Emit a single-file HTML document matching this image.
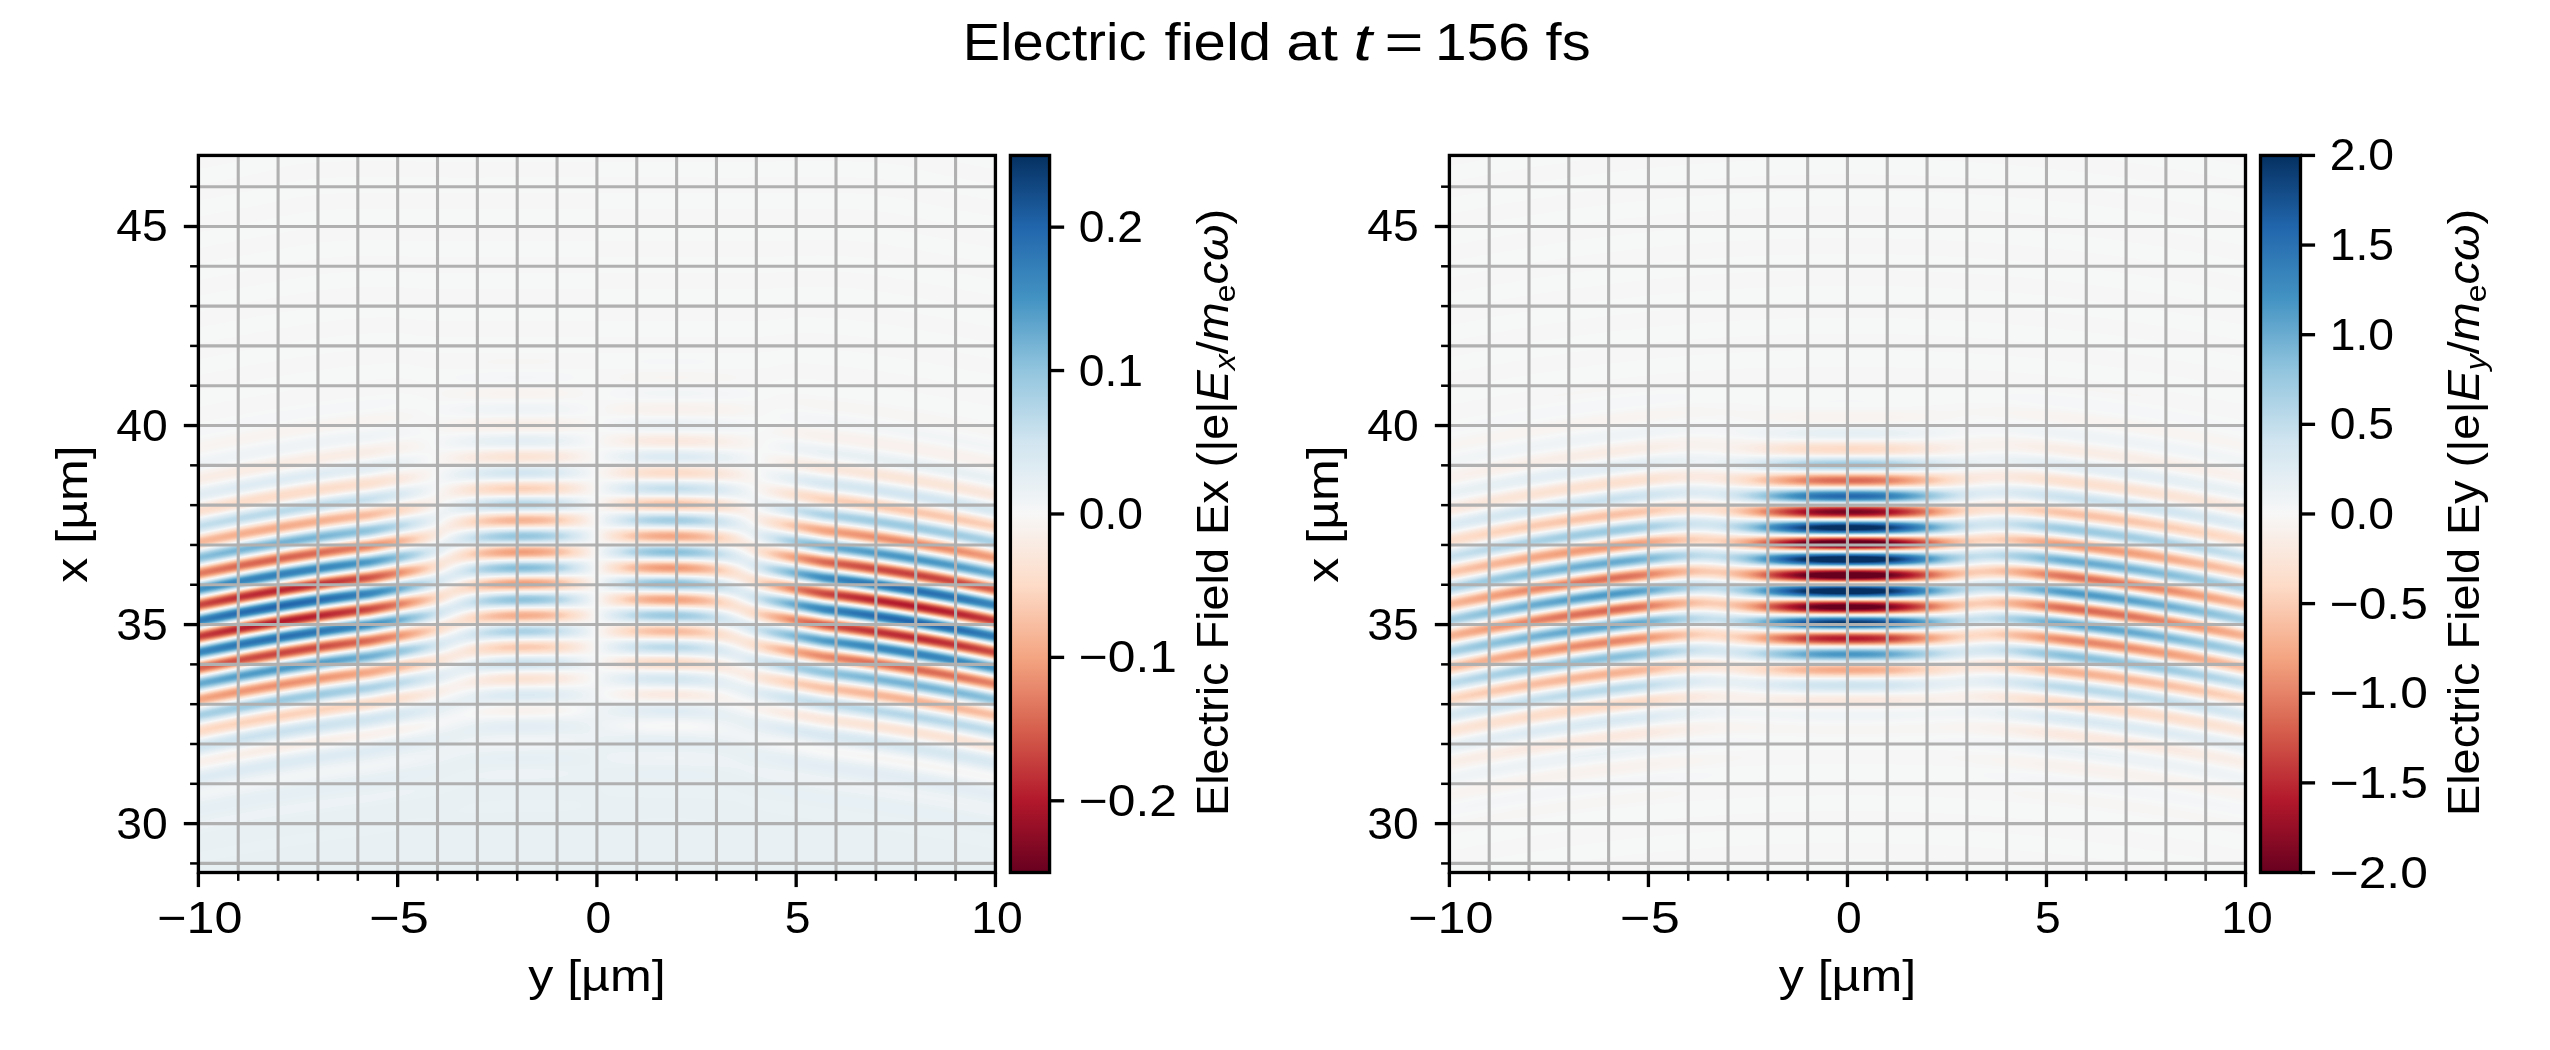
<!DOCTYPE html>
<html><head><meta charset="utf-8"><style>
html,body{margin:0;padding:0;background:#fff;}
body{width:2550px;height:1050px;position:relative;overflow:hidden;}
.hm{position:absolute;}
svg{position:absolute;left:0;top:0;}
text{font-family:"Liberation Sans",sans-serif;fill:#000;}
</style></head><body>
<svg width="2550" height="1050" viewBox="0 0 2550 1050"><defs><linearGradient id="fbC" gradientUnits="userSpaceOnUse" x1="0" y1="420.59" x2="0" y2="452.44" spreadMethod="repeat"><stop offset="0.0000" stop-color="#67001f"/><stop offset="0.0833" stop-color="#991027"/><stop offset="0.1667" stop-color="#e58267"/><stop offset="0.2500" stop-color="#f7f7f7"/><stop offset="0.3333" stop-color="#6bacd1"/><stop offset="0.4167" stop-color="#185493"/><stop offset="0.5000" stop-color="#053061"/><stop offset="0.5833" stop-color="#185493"/><stop offset="0.6667" stop-color="#6aacd0"/><stop offset="0.7500" stop-color="#f7f7f7"/><stop offset="0.8333" stop-color="#e58267"/><stop offset="0.9167" stop-color="#991027"/><stop offset="1.0000" stop-color="#67001f"/></linearGradient><radialGradient id="fbS" gradientUnits="userSpaceOnUse" cx="398.50" cy="2415.87" r="31.848" fx="398.50" fy="2415.87" spreadMethod="repeat"><stop offset="0.0000" stop-color="#de715a"/><stop offset="0.0833" stop-color="#e98b6e"/><stop offset="0.1667" stop-color="#fac7ad"/><stop offset="0.2500" stop-color="#f7f7f7"/><stop offset="0.3333" stop-color="#b9d9e9"/><stop offset="0.4167" stop-color="#74b2d4"/><stop offset="0.5000" stop-color="#57a0ca"/><stop offset="0.5833" stop-color="#74b2d4"/><stop offset="0.6667" stop-color="#b9d9e9"/><stop offset="0.7500" stop-color="#f7f7f7"/><stop offset="0.8333" stop-color="#fac7ad"/><stop offset="0.9167" stop-color="#e98b6e"/><stop offset="1.0000" stop-color="#de715a"/></radialGradient><radialGradient id="fbSx" gradientUnits="userSpaceOnUse" cx="398.50" cy="2415.87" r="31.848" fx="398.50" fy="2415.87" spreadMethod="repeat"><stop offset="0.0000" stop-color="#f7f7f7"/><stop offset="0.0833" stop-color="#f5ac8b"/><stop offset="0.1667" stop-color="#cd4e45"/><stop offset="0.2500" stop-color="#bb2a34"/><stop offset="0.3333" stop-color="#cd4e45"/><stop offset="0.4167" stop-color="#f5ac8b"/><stop offset="0.5000" stop-color="#f7f7f7"/><stop offset="0.5833" stop-color="#9ac9e0"/><stop offset="0.6667" stop-color="#3b88bd"/><stop offset="0.7500" stop-color="#2a71b2"/><stop offset="0.8333" stop-color="#3b88bd"/><stop offset="0.9167" stop-color="#9ac9e0"/><stop offset="1.0000" stop-color="#f7f7f7"/></radialGradient><radialGradient id="fbSx2" gradientUnits="userSpaceOnUse" cx="398.50" cy="2415.87" r="31.848" fx="398.50" fy="2415.87" spreadMethod="repeat"><stop offset="0.0000" stop-color="#f7f7f7"/><stop offset="0.0833" stop-color="#9ac9e0"/><stop offset="0.1667" stop-color="#3b88bd"/><stop offset="0.2500" stop-color="#2a71b2"/><stop offset="0.3333" stop-color="#3b88bd"/><stop offset="0.4167" stop-color="#9ac9e0"/><stop offset="0.5000" stop-color="#f7f7f7"/><stop offset="0.5833" stop-color="#f5ac8b"/><stop offset="0.6667" stop-color="#cd4e45"/><stop offset="0.7500" stop-color="#bb2a34"/><stop offset="0.8333" stop-color="#cd4e45"/><stop offset="0.9167" stop-color="#f5ac8b"/><stop offset="1.0000" stop-color="#f7f7f7"/></radialGradient><radialGradient id="fbG"><stop offset="0" stop-color="#fff"/><stop offset="0.45" stop-color="#fff" stop-opacity="0.85"/><stop offset="1" stop-color="#fff" stop-opacity="0"/></radialGradient><mask id="fbMC" maskUnits="userSpaceOnUse" x="0" y="0" width="797" height="717"><ellipse cx="398.5" cy="413.4" rx="135.5" ry="143.3" fill="url(#fbG)"/></mask><mask id="fbMS" maskUnits="userSpaceOnUse" x="0" y="0" width="797" height="717"><ellipse cx="139.5" cy="437.3" rx="219.2" ry="135.4" fill="url(#fbG)"/><ellipse cx="657.5" cy="437.3" rx="219.2" ry="135.4" fill="url(#fbG)"/></mask><mask id="fbML" maskUnits="userSpaceOnUse" x="0" y="0" width="797" height="717"><ellipse cx="59.8" cy="441.3" rx="191.3" ry="131.4" fill="url(#fbG)"/></mask><mask id="fbMR" maskUnits="userSpaceOnUse" x="0" y="0" width="797" height="717"><ellipse cx="737.2" cy="441.3" rx="191.3" ry="131.4" fill="url(#fbG)"/></mask><linearGradient id="fbDC" x1="0" y1="0" x2="0" y2="1"><stop offset="0" stop-color="#e9eff3" stop-opacity="0"/><stop offset="0.738" stop-color="#e9eff3" stop-opacity="0"/><stop offset="0.832" stop-color="#e9eff3"/><stop offset="1" stop-color="#e9eff3"/></linearGradient><linearGradient id="fbCx" gradientUnits="userSpaceOnUse" x1="0" y1="420.59" x2="0" y2="452.44" spreadMethod="repeat"><stop offset="0.0000" stop-color="#f7f7f7"/><stop offset="0.0833" stop-color="#fddbc7"/><stop offset="0.1667" stop-color="#f6b394"/><stop offset="0.2500" stop-color="#f4a582"/><stop offset="0.3333" stop-color="#f6b394"/><stop offset="0.4167" stop-color="#fddbc7"/><stop offset="0.5000" stop-color="#f7f7f7"/><stop offset="0.5833" stop-color="#d1e5f0"/><stop offset="0.6667" stop-color="#a3cee3"/><stop offset="0.7500" stop-color="#92c5de"/><stop offset="0.8333" stop-color="#a3cee3"/><stop offset="0.9167" stop-color="#d1e5f0"/><stop offset="1.0000" stop-color="#f7f7f7"/></linearGradient><linearGradient id="fbCx2" gradientUnits="userSpaceOnUse" x1="0" y1="420.59" x2="0" y2="452.44" spreadMethod="repeat"><stop offset="0.0000" stop-color="#f7f7f7"/><stop offset="0.0833" stop-color="#d1e5f0"/><stop offset="0.1667" stop-color="#a3cee3"/><stop offset="0.2500" stop-color="#92c5de"/><stop offset="0.3333" stop-color="#a3cee3"/><stop offset="0.4167" stop-color="#d1e5f0"/><stop offset="0.5000" stop-color="#f7f7f7"/><stop offset="0.5833" stop-color="#fddbc7"/><stop offset="0.6667" stop-color="#f6b394"/><stop offset="0.7500" stop-color="#f4a582"/><stop offset="0.8333" stop-color="#f6b394"/><stop offset="0.9167" stop-color="#fddbc7"/><stop offset="1.0000" stop-color="#f7f7f7"/></linearGradient><mask id="fbMCL" maskUnits="userSpaceOnUse" x="0" y="0" width="797" height="717"><ellipse cx="322.8" cy="413.4" rx="79.7" ry="131.4" fill="url(#fbG)"/></mask><mask id="fbMCR" maskUnits="userSpaceOnUse" x="0" y="0" width="797" height="717"><ellipse cx="474.2" cy="413.4" rx="79.7" ry="131.4" fill="url(#fbG)"/></mask></defs><g transform="translate(198.40 155.43)"><rect width="797" height="717" fill="#f6f7f7"/><rect width="797" height="717" fill="url(#fbDC)"/><rect width="797" height="717" fill="url(#fbSx)" mask="url(#fbML)"/><rect width="797" height="717" fill="url(#fbSx2)" mask="url(#fbMR)"/><rect width="797" height="717" fill="url(#fbCx)" mask="url(#fbMCL)"/><rect width="797" height="717" fill="url(#fbCx2)" mask="url(#fbMCR)"/></g><g transform="translate(1449.40 155.43)"><rect width="797" height="717" fill="#f6f7f7"/><rect width="797" height="717" fill="url(#fbS)" mask="url(#fbMS)"/><rect width="797" height="717" fill="url(#fbC)" mask="url(#fbMC)"/></g></svg>
<canvas id="h0" class="hm" width="797" height="717" style="left:198px;top:155px;width:797px;height:717px"></canvas>
<canvas id="h1" class="hm" width="797" height="717" style="left:1449px;top:155px;width:797px;height:717px"></canvas>
<svg width="2550" height="1050" viewBox="0 0 2550 1050">
<defs><linearGradient id="rdbu" x1="0" y1="1" x2="0" y2="0"><stop offset="0.0" stop-color="#67001f"/><stop offset="0.1" stop-color="#b2182b"/><stop offset="0.2" stop-color="#d6604d"/><stop offset="0.3" stop-color="#f4a582"/><stop offset="0.4" stop-color="#fddbc7"/><stop offset="0.5" stop-color="#f7f7f7"/><stop offset="0.6" stop-color="#d1e5f0"/><stop offset="0.7" stop-color="#92c5de"/><stop offset="0.8" stop-color="#4393c3"/><stop offset="0.9" stop-color="#2166ac"/><stop offset="1.0" stop-color="#053061"/></linearGradient></defs>
<line x1="238.25" y1="155.43" x2="238.25" y2="872.50" stroke="#b0b0b0" stroke-width="3.1"/>
<line x1="278.10" y1="155.43" x2="278.10" y2="872.50" stroke="#b0b0b0" stroke-width="3.1"/>
<line x1="317.95" y1="155.43" x2="317.95" y2="872.50" stroke="#b0b0b0" stroke-width="3.1"/>
<line x1="357.81" y1="155.43" x2="357.81" y2="872.50" stroke="#b0b0b0" stroke-width="3.1"/>
<line x1="397.66" y1="155.43" x2="397.66" y2="872.50" stroke="#b0b0b0" stroke-width="3.1"/>
<line x1="437.51" y1="155.43" x2="437.51" y2="872.50" stroke="#b0b0b0" stroke-width="3.1"/>
<line x1="477.36" y1="155.43" x2="477.36" y2="872.50" stroke="#b0b0b0" stroke-width="3.1"/>
<line x1="517.21" y1="155.43" x2="517.21" y2="872.50" stroke="#b0b0b0" stroke-width="3.1"/>
<line x1="557.06" y1="155.43" x2="557.06" y2="872.50" stroke="#b0b0b0" stroke-width="3.1"/>
<line x1="596.91" y1="155.43" x2="596.91" y2="872.50" stroke="#b0b0b0" stroke-width="3.1"/>
<line x1="636.77" y1="155.43" x2="636.77" y2="872.50" stroke="#b0b0b0" stroke-width="3.1"/>
<line x1="676.62" y1="155.43" x2="676.62" y2="872.50" stroke="#b0b0b0" stroke-width="3.1"/>
<line x1="716.47" y1="155.43" x2="716.47" y2="872.50" stroke="#b0b0b0" stroke-width="3.1"/>
<line x1="756.32" y1="155.43" x2="756.32" y2="872.50" stroke="#b0b0b0" stroke-width="3.1"/>
<line x1="796.17" y1="155.43" x2="796.17" y2="872.50" stroke="#b0b0b0" stroke-width="3.1"/>
<line x1="836.02" y1="155.43" x2="836.02" y2="872.50" stroke="#b0b0b0" stroke-width="3.1"/>
<line x1="875.88" y1="155.43" x2="875.88" y2="872.50" stroke="#b0b0b0" stroke-width="3.1"/>
<line x1="915.73" y1="155.43" x2="915.73" y2="872.50" stroke="#b0b0b0" stroke-width="3.1"/>
<line x1="955.58" y1="155.43" x2="955.58" y2="872.50" stroke="#b0b0b0" stroke-width="3.1"/>
<line x1="198.40" y1="863.42" x2="995.43" y2="863.42" stroke="#b0b0b0" stroke-width="3.1"/>
<line x1="198.40" y1="823.62" x2="995.43" y2="823.62" stroke="#b0b0b0" stroke-width="3.1"/>
<line x1="198.40" y1="783.81" x2="995.43" y2="783.81" stroke="#b0b0b0" stroke-width="3.1"/>
<line x1="198.40" y1="744.00" x2="995.43" y2="744.00" stroke="#b0b0b0" stroke-width="3.1"/>
<line x1="198.40" y1="704.19" x2="995.43" y2="704.19" stroke="#b0b0b0" stroke-width="3.1"/>
<line x1="198.40" y1="664.38" x2="995.43" y2="664.38" stroke="#b0b0b0" stroke-width="3.1"/>
<line x1="198.40" y1="624.57" x2="995.43" y2="624.57" stroke="#b0b0b0" stroke-width="3.1"/>
<line x1="198.40" y1="584.76" x2="995.43" y2="584.76" stroke="#b0b0b0" stroke-width="3.1"/>
<line x1="198.40" y1="544.96" x2="995.43" y2="544.96" stroke="#b0b0b0" stroke-width="3.1"/>
<line x1="198.40" y1="505.15" x2="995.43" y2="505.15" stroke="#b0b0b0" stroke-width="3.1"/>
<line x1="198.40" y1="465.34" x2="995.43" y2="465.34" stroke="#b0b0b0" stroke-width="3.1"/>
<line x1="198.40" y1="425.53" x2="995.43" y2="425.53" stroke="#b0b0b0" stroke-width="3.1"/>
<line x1="198.40" y1="385.72" x2="995.43" y2="385.72" stroke="#b0b0b0" stroke-width="3.1"/>
<line x1="198.40" y1="345.91" x2="995.43" y2="345.91" stroke="#b0b0b0" stroke-width="3.1"/>
<line x1="198.40" y1="306.11" x2="995.43" y2="306.11" stroke="#b0b0b0" stroke-width="3.1"/>
<line x1="198.40" y1="266.30" x2="995.43" y2="266.30" stroke="#b0b0b0" stroke-width="3.1"/>
<line x1="198.40" y1="226.49" x2="995.43" y2="226.49" stroke="#b0b0b0" stroke-width="3.1"/>
<line x1="198.40" y1="186.68" x2="995.43" y2="186.68" stroke="#b0b0b0" stroke-width="3.1"/>
<rect x="198.40" y="155.43" width="797.03" height="717.07" fill="none" stroke="#000" stroke-width="3.33"/>
<line x1="198.40" y1="872.50" x2="198.40" y2="887.08" stroke="#000" stroke-width="3.33"/>
<line x1="238.25" y1="872.50" x2="238.25" y2="880.83" stroke="#000" stroke-width="2.5"/>
<line x1="278.10" y1="872.50" x2="278.10" y2="880.83" stroke="#000" stroke-width="2.5"/>
<line x1="317.95" y1="872.50" x2="317.95" y2="880.83" stroke="#000" stroke-width="2.5"/>
<line x1="357.81" y1="872.50" x2="357.81" y2="880.83" stroke="#000" stroke-width="2.5"/>
<line x1="397.66" y1="872.50" x2="397.66" y2="887.08" stroke="#000" stroke-width="3.33"/>
<line x1="437.51" y1="872.50" x2="437.51" y2="880.83" stroke="#000" stroke-width="2.5"/>
<line x1="477.36" y1="872.50" x2="477.36" y2="880.83" stroke="#000" stroke-width="2.5"/>
<line x1="517.21" y1="872.50" x2="517.21" y2="880.83" stroke="#000" stroke-width="2.5"/>
<line x1="557.06" y1="872.50" x2="557.06" y2="880.83" stroke="#000" stroke-width="2.5"/>
<line x1="596.91" y1="872.50" x2="596.91" y2="887.08" stroke="#000" stroke-width="3.33"/>
<line x1="636.77" y1="872.50" x2="636.77" y2="880.83" stroke="#000" stroke-width="2.5"/>
<line x1="676.62" y1="872.50" x2="676.62" y2="880.83" stroke="#000" stroke-width="2.5"/>
<line x1="716.47" y1="872.50" x2="716.47" y2="880.83" stroke="#000" stroke-width="2.5"/>
<line x1="756.32" y1="872.50" x2="756.32" y2="880.83" stroke="#000" stroke-width="2.5"/>
<line x1="796.17" y1="872.50" x2="796.17" y2="887.08" stroke="#000" stroke-width="3.33"/>
<line x1="836.02" y1="872.50" x2="836.02" y2="880.83" stroke="#000" stroke-width="2.5"/>
<line x1="875.88" y1="872.50" x2="875.88" y2="880.83" stroke="#000" stroke-width="2.5"/>
<line x1="915.73" y1="872.50" x2="915.73" y2="880.83" stroke="#000" stroke-width="2.5"/>
<line x1="955.58" y1="872.50" x2="955.58" y2="880.83" stroke="#000" stroke-width="2.5"/>
<line x1="995.43" y1="872.50" x2="995.43" y2="887.08" stroke="#000" stroke-width="3.33"/>
<line x1="190.07" y1="863.42" x2="198.40" y2="863.42" stroke="#000" stroke-width="2.5"/>
<line x1="183.82" y1="823.62" x2="198.40" y2="823.62" stroke="#000" stroke-width="3.33"/>
<line x1="190.07" y1="783.81" x2="198.40" y2="783.81" stroke="#000" stroke-width="2.5"/>
<line x1="190.07" y1="744.00" x2="198.40" y2="744.00" stroke="#000" stroke-width="2.5"/>
<line x1="190.07" y1="704.19" x2="198.40" y2="704.19" stroke="#000" stroke-width="2.5"/>
<line x1="190.07" y1="664.38" x2="198.40" y2="664.38" stroke="#000" stroke-width="2.5"/>
<line x1="183.82" y1="624.57" x2="198.40" y2="624.57" stroke="#000" stroke-width="3.33"/>
<line x1="190.07" y1="584.76" x2="198.40" y2="584.76" stroke="#000" stroke-width="2.5"/>
<line x1="190.07" y1="544.96" x2="198.40" y2="544.96" stroke="#000" stroke-width="2.5"/>
<line x1="190.07" y1="505.15" x2="198.40" y2="505.15" stroke="#000" stroke-width="2.5"/>
<line x1="190.07" y1="465.34" x2="198.40" y2="465.34" stroke="#000" stroke-width="2.5"/>
<line x1="183.82" y1="425.53" x2="198.40" y2="425.53" stroke="#000" stroke-width="3.33"/>
<line x1="190.07" y1="385.72" x2="198.40" y2="385.72" stroke="#000" stroke-width="2.5"/>
<line x1="190.07" y1="345.91" x2="198.40" y2="345.91" stroke="#000" stroke-width="2.5"/>
<line x1="190.07" y1="306.11" x2="198.40" y2="306.11" stroke="#000" stroke-width="2.5"/>
<line x1="190.07" y1="266.30" x2="198.40" y2="266.30" stroke="#000" stroke-width="2.5"/>
<line x1="183.82" y1="226.49" x2="198.40" y2="226.49" stroke="#000" stroke-width="3.33"/>
<line x1="190.07" y1="186.68" x2="198.40" y2="186.68" stroke="#000" stroke-width="2.5"/>
<text x="199.90" y="933.00" font-size="44" text-anchor="middle" textLength="85.29" lengthAdjust="spacingAndGlyphs">−10</text>
<text x="399.16" y="933.00" font-size="44" text-anchor="middle" textLength="59.58" lengthAdjust="spacingAndGlyphs">−5</text>
<text x="598.41" y="933.00" font-size="44" text-anchor="middle" textLength="25.71" lengthAdjust="spacingAndGlyphs">0</text>
<text x="797.67" y="933.00" font-size="44" text-anchor="middle" textLength="25.71" lengthAdjust="spacingAndGlyphs">5</text>
<text x="996.93" y="933.00" font-size="44" text-anchor="middle" textLength="51.43" lengthAdjust="spacingAndGlyphs">10</text>
<text x="167.70" y="838.62" font-size="44" text-anchor="end" textLength="51.43" lengthAdjust="spacingAndGlyphs">30</text>
<text x="167.70" y="639.57" font-size="44" text-anchor="end" textLength="51.43" lengthAdjust="spacingAndGlyphs">35</text>
<text x="167.70" y="440.53" font-size="44" text-anchor="end" textLength="51.43" lengthAdjust="spacingAndGlyphs">40</text>
<text x="167.70" y="241.49" font-size="44" text-anchor="end" textLength="51.43" lengthAdjust="spacingAndGlyphs">45</text>
<text x="596.91" y="991.20" font-size="44" text-anchor="middle" textLength="137.45" lengthAdjust="spacingAndGlyphs">y [µm]</text>
<text x="86.90" y="513.97" font-size="44" text-anchor="middle" textLength="137.45" lengthAdjust="spacingAndGlyphs" transform="rotate(-90 86.9 513.965)">x [µm]</text>
<rect x="1010.40" y="155.43" width="39.17" height="717.07" fill="url(#rdbu)" stroke="#000" stroke-width="3.33"/>
<line x1="1049.57" y1="227.14" x2="1064.15" y2="227.14" stroke="#000" stroke-width="3.33"/>
<text x="1078.77" y="242.14" font-size="44" textLength="64.28" lengthAdjust="spacingAndGlyphs">0.2</text>
<line x1="1049.57" y1="370.55" x2="1064.15" y2="370.55" stroke="#000" stroke-width="3.33"/>
<text x="1078.77" y="385.55" font-size="44" textLength="64.28" lengthAdjust="spacingAndGlyphs">0.1</text>
<line x1="1049.57" y1="513.97" x2="1064.15" y2="513.97" stroke="#000" stroke-width="3.33"/>
<text x="1078.77" y="528.97" font-size="44" textLength="64.28" lengthAdjust="spacingAndGlyphs">0.0</text>
<line x1="1049.57" y1="657.38" x2="1064.15" y2="657.38" stroke="#000" stroke-width="3.33"/>
<text x="1078.77" y="672.38" font-size="44" textLength="98.14" lengthAdjust="spacingAndGlyphs">−0.1</text>
<line x1="1049.57" y1="800.79" x2="1064.15" y2="800.79" stroke="#000" stroke-width="3.33"/>
<text x="1078.77" y="815.79" font-size="44" textLength="98.14" lengthAdjust="spacingAndGlyphs">−0.2</text>
<text x="1228.17" y="816.00" font-size="44" textLength="607" lengthAdjust="spacingAndGlyphs" transform="rotate(-90 1228.1699999999998 816.0)">Electric Field Ex (|e|<tspan font-style="italic">E</tspan><tspan font-style="italic" font-size="30" dy="7">x</tspan><tspan dy="-7">/</tspan><tspan font-style="italic">m</tspan><tspan font-size="30" dy="7">e</tspan><tspan font-style="italic" dy="-7">cω</tspan>)</text>
<line x1="1489.21" y1="155.43" x2="1489.21" y2="872.50" stroke="#b0b0b0" stroke-width="3.1"/>
<line x1="1529.01" y1="155.43" x2="1529.01" y2="872.50" stroke="#b0b0b0" stroke-width="3.1"/>
<line x1="1568.82" y1="155.43" x2="1568.82" y2="872.50" stroke="#b0b0b0" stroke-width="3.1"/>
<line x1="1608.62" y1="155.43" x2="1608.62" y2="872.50" stroke="#b0b0b0" stroke-width="3.1"/>
<line x1="1648.43" y1="155.43" x2="1648.43" y2="872.50" stroke="#b0b0b0" stroke-width="3.1"/>
<line x1="1688.23" y1="155.43" x2="1688.23" y2="872.50" stroke="#b0b0b0" stroke-width="3.1"/>
<line x1="1728.04" y1="155.43" x2="1728.04" y2="872.50" stroke="#b0b0b0" stroke-width="3.1"/>
<line x1="1767.84" y1="155.43" x2="1767.84" y2="872.50" stroke="#b0b0b0" stroke-width="3.1"/>
<line x1="1807.64" y1="155.43" x2="1807.64" y2="872.50" stroke="#b0b0b0" stroke-width="3.1"/>
<line x1="1847.45" y1="155.43" x2="1847.45" y2="872.50" stroke="#b0b0b0" stroke-width="3.1"/>
<line x1="1887.26" y1="155.43" x2="1887.26" y2="872.50" stroke="#b0b0b0" stroke-width="3.1"/>
<line x1="1927.06" y1="155.43" x2="1927.06" y2="872.50" stroke="#b0b0b0" stroke-width="3.1"/>
<line x1="1966.87" y1="155.43" x2="1966.87" y2="872.50" stroke="#b0b0b0" stroke-width="3.1"/>
<line x1="2006.67" y1="155.43" x2="2006.67" y2="872.50" stroke="#b0b0b0" stroke-width="3.1"/>
<line x1="2046.47" y1="155.43" x2="2046.47" y2="872.50" stroke="#b0b0b0" stroke-width="3.1"/>
<line x1="2086.28" y1="155.43" x2="2086.28" y2="872.50" stroke="#b0b0b0" stroke-width="3.1"/>
<line x1="2126.09" y1="155.43" x2="2126.09" y2="872.50" stroke="#b0b0b0" stroke-width="3.1"/>
<line x1="2165.89" y1="155.43" x2="2165.89" y2="872.50" stroke="#b0b0b0" stroke-width="3.1"/>
<line x1="2205.69" y1="155.43" x2="2205.69" y2="872.50" stroke="#b0b0b0" stroke-width="3.1"/>
<line x1="1449.40" y1="863.42" x2="2245.50" y2="863.42" stroke="#b0b0b0" stroke-width="3.1"/>
<line x1="1449.40" y1="823.62" x2="2245.50" y2="823.62" stroke="#b0b0b0" stroke-width="3.1"/>
<line x1="1449.40" y1="783.81" x2="2245.50" y2="783.81" stroke="#b0b0b0" stroke-width="3.1"/>
<line x1="1449.40" y1="744.00" x2="2245.50" y2="744.00" stroke="#b0b0b0" stroke-width="3.1"/>
<line x1="1449.40" y1="704.19" x2="2245.50" y2="704.19" stroke="#b0b0b0" stroke-width="3.1"/>
<line x1="1449.40" y1="664.38" x2="2245.50" y2="664.38" stroke="#b0b0b0" stroke-width="3.1"/>
<line x1="1449.40" y1="624.57" x2="2245.50" y2="624.57" stroke="#b0b0b0" stroke-width="3.1"/>
<line x1="1449.40" y1="584.76" x2="2245.50" y2="584.76" stroke="#b0b0b0" stroke-width="3.1"/>
<line x1="1449.40" y1="544.96" x2="2245.50" y2="544.96" stroke="#b0b0b0" stroke-width="3.1"/>
<line x1="1449.40" y1="505.15" x2="2245.50" y2="505.15" stroke="#b0b0b0" stroke-width="3.1"/>
<line x1="1449.40" y1="465.34" x2="2245.50" y2="465.34" stroke="#b0b0b0" stroke-width="3.1"/>
<line x1="1449.40" y1="425.53" x2="2245.50" y2="425.53" stroke="#b0b0b0" stroke-width="3.1"/>
<line x1="1449.40" y1="385.72" x2="2245.50" y2="385.72" stroke="#b0b0b0" stroke-width="3.1"/>
<line x1="1449.40" y1="345.91" x2="2245.50" y2="345.91" stroke="#b0b0b0" stroke-width="3.1"/>
<line x1="1449.40" y1="306.11" x2="2245.50" y2="306.11" stroke="#b0b0b0" stroke-width="3.1"/>
<line x1="1449.40" y1="266.30" x2="2245.50" y2="266.30" stroke="#b0b0b0" stroke-width="3.1"/>
<line x1="1449.40" y1="226.49" x2="2245.50" y2="226.49" stroke="#b0b0b0" stroke-width="3.1"/>
<line x1="1449.40" y1="186.68" x2="2245.50" y2="186.68" stroke="#b0b0b0" stroke-width="3.1"/>
<rect x="1449.40" y="155.43" width="796.10" height="717.07" fill="none" stroke="#000" stroke-width="3.33"/>
<line x1="1449.40" y1="872.50" x2="1449.40" y2="887.08" stroke="#000" stroke-width="3.33"/>
<line x1="1489.21" y1="872.50" x2="1489.21" y2="880.83" stroke="#000" stroke-width="2.5"/>
<line x1="1529.01" y1="872.50" x2="1529.01" y2="880.83" stroke="#000" stroke-width="2.5"/>
<line x1="1568.82" y1="872.50" x2="1568.82" y2="880.83" stroke="#000" stroke-width="2.5"/>
<line x1="1608.62" y1="872.50" x2="1608.62" y2="880.83" stroke="#000" stroke-width="2.5"/>
<line x1="1648.43" y1="872.50" x2="1648.43" y2="887.08" stroke="#000" stroke-width="3.33"/>
<line x1="1688.23" y1="872.50" x2="1688.23" y2="880.83" stroke="#000" stroke-width="2.5"/>
<line x1="1728.04" y1="872.50" x2="1728.04" y2="880.83" stroke="#000" stroke-width="2.5"/>
<line x1="1767.84" y1="872.50" x2="1767.84" y2="880.83" stroke="#000" stroke-width="2.5"/>
<line x1="1807.64" y1="872.50" x2="1807.64" y2="880.83" stroke="#000" stroke-width="2.5"/>
<line x1="1847.45" y1="872.50" x2="1847.45" y2="887.08" stroke="#000" stroke-width="3.33"/>
<line x1="1887.26" y1="872.50" x2="1887.26" y2="880.83" stroke="#000" stroke-width="2.5"/>
<line x1="1927.06" y1="872.50" x2="1927.06" y2="880.83" stroke="#000" stroke-width="2.5"/>
<line x1="1966.87" y1="872.50" x2="1966.87" y2="880.83" stroke="#000" stroke-width="2.5"/>
<line x1="2006.67" y1="872.50" x2="2006.67" y2="880.83" stroke="#000" stroke-width="2.5"/>
<line x1="2046.47" y1="872.50" x2="2046.47" y2="887.08" stroke="#000" stroke-width="3.33"/>
<line x1="2086.28" y1="872.50" x2="2086.28" y2="880.83" stroke="#000" stroke-width="2.5"/>
<line x1="2126.09" y1="872.50" x2="2126.09" y2="880.83" stroke="#000" stroke-width="2.5"/>
<line x1="2165.89" y1="872.50" x2="2165.89" y2="880.83" stroke="#000" stroke-width="2.5"/>
<line x1="2205.69" y1="872.50" x2="2205.69" y2="880.83" stroke="#000" stroke-width="2.5"/>
<line x1="2245.50" y1="872.50" x2="2245.50" y2="887.08" stroke="#000" stroke-width="3.33"/>
<line x1="1441.07" y1="863.42" x2="1449.40" y2="863.42" stroke="#000" stroke-width="2.5"/>
<line x1="1434.82" y1="823.62" x2="1449.40" y2="823.62" stroke="#000" stroke-width="3.33"/>
<line x1="1441.07" y1="783.81" x2="1449.40" y2="783.81" stroke="#000" stroke-width="2.5"/>
<line x1="1441.07" y1="744.00" x2="1449.40" y2="744.00" stroke="#000" stroke-width="2.5"/>
<line x1="1441.07" y1="704.19" x2="1449.40" y2="704.19" stroke="#000" stroke-width="2.5"/>
<line x1="1441.07" y1="664.38" x2="1449.40" y2="664.38" stroke="#000" stroke-width="2.5"/>
<line x1="1434.82" y1="624.57" x2="1449.40" y2="624.57" stroke="#000" stroke-width="3.33"/>
<line x1="1441.07" y1="584.76" x2="1449.40" y2="584.76" stroke="#000" stroke-width="2.5"/>
<line x1="1441.07" y1="544.96" x2="1449.40" y2="544.96" stroke="#000" stroke-width="2.5"/>
<line x1="1441.07" y1="505.15" x2="1449.40" y2="505.15" stroke="#000" stroke-width="2.5"/>
<line x1="1441.07" y1="465.34" x2="1449.40" y2="465.34" stroke="#000" stroke-width="2.5"/>
<line x1="1434.82" y1="425.53" x2="1449.40" y2="425.53" stroke="#000" stroke-width="3.33"/>
<line x1="1441.07" y1="385.72" x2="1449.40" y2="385.72" stroke="#000" stroke-width="2.5"/>
<line x1="1441.07" y1="345.91" x2="1449.40" y2="345.91" stroke="#000" stroke-width="2.5"/>
<line x1="1441.07" y1="306.11" x2="1449.40" y2="306.11" stroke="#000" stroke-width="2.5"/>
<line x1="1441.07" y1="266.30" x2="1449.40" y2="266.30" stroke="#000" stroke-width="2.5"/>
<line x1="1434.82" y1="226.49" x2="1449.40" y2="226.49" stroke="#000" stroke-width="3.33"/>
<line x1="1441.07" y1="186.68" x2="1449.40" y2="186.68" stroke="#000" stroke-width="2.5"/>
<text x="1450.90" y="933.00" font-size="44" text-anchor="middle" textLength="85.29" lengthAdjust="spacingAndGlyphs">−10</text>
<text x="1649.93" y="933.00" font-size="44" text-anchor="middle" textLength="59.58" lengthAdjust="spacingAndGlyphs">−5</text>
<text x="1848.95" y="933.00" font-size="44" text-anchor="middle" textLength="25.71" lengthAdjust="spacingAndGlyphs">0</text>
<text x="2047.97" y="933.00" font-size="44" text-anchor="middle" textLength="25.71" lengthAdjust="spacingAndGlyphs">5</text>
<text x="2247.00" y="933.00" font-size="44" text-anchor="middle" textLength="51.43" lengthAdjust="spacingAndGlyphs">10</text>
<text x="1418.70" y="838.62" font-size="44" text-anchor="end" textLength="51.43" lengthAdjust="spacingAndGlyphs">30</text>
<text x="1418.70" y="639.57" font-size="44" text-anchor="end" textLength="51.43" lengthAdjust="spacingAndGlyphs">35</text>
<text x="1418.70" y="440.53" font-size="44" text-anchor="end" textLength="51.43" lengthAdjust="spacingAndGlyphs">40</text>
<text x="1418.70" y="241.49" font-size="44" text-anchor="end" textLength="51.43" lengthAdjust="spacingAndGlyphs">45</text>
<text x="1847.45" y="991.20" font-size="44" text-anchor="middle" textLength="137.45" lengthAdjust="spacingAndGlyphs">y [µm]</text>
<text x="1337.90" y="513.97" font-size="44" text-anchor="middle" textLength="137.45" lengthAdjust="spacingAndGlyphs" transform="rotate(-90 1337.9 513.965)">x [µm]</text>
<rect x="2260.50" y="155.43" width="40.00" height="717.07" fill="url(#rdbu)" stroke="#000" stroke-width="3.33"/>
<line x1="2300.50" y1="155.43" x2="2315.08" y2="155.43" stroke="#000" stroke-width="3.33"/>
<text x="2329.70" y="170.43" font-size="44" textLength="64.28" lengthAdjust="spacingAndGlyphs">2.0</text>
<line x1="2300.50" y1="245.06" x2="2315.08" y2="245.06" stroke="#000" stroke-width="3.33"/>
<text x="2329.70" y="260.06" font-size="44" textLength="64.28" lengthAdjust="spacingAndGlyphs">1.5</text>
<line x1="2300.50" y1="334.70" x2="2315.08" y2="334.70" stroke="#000" stroke-width="3.33"/>
<text x="2329.70" y="349.70" font-size="44" textLength="64.28" lengthAdjust="spacingAndGlyphs">1.0</text>
<line x1="2300.50" y1="424.33" x2="2315.08" y2="424.33" stroke="#000" stroke-width="3.33"/>
<text x="2329.70" y="439.33" font-size="44" textLength="64.28" lengthAdjust="spacingAndGlyphs">0.5</text>
<line x1="2300.50" y1="513.97" x2="2315.08" y2="513.97" stroke="#000" stroke-width="3.33"/>
<text x="2329.70" y="528.97" font-size="44" textLength="64.28" lengthAdjust="spacingAndGlyphs">0.0</text>
<line x1="2300.50" y1="603.60" x2="2315.08" y2="603.60" stroke="#000" stroke-width="3.33"/>
<text x="2329.70" y="618.60" font-size="44" textLength="98.14" lengthAdjust="spacingAndGlyphs">−0.5</text>
<line x1="2300.50" y1="693.23" x2="2315.08" y2="693.23" stroke="#000" stroke-width="3.33"/>
<text x="2329.70" y="708.23" font-size="44" textLength="98.14" lengthAdjust="spacingAndGlyphs">−1.0</text>
<line x1="2300.50" y1="782.87" x2="2315.08" y2="782.87" stroke="#000" stroke-width="3.33"/>
<text x="2329.70" y="797.87" font-size="44" textLength="98.14" lengthAdjust="spacingAndGlyphs">−1.5</text>
<line x1="2300.50" y1="872.50" x2="2315.08" y2="872.50" stroke="#000" stroke-width="3.33"/>
<text x="2329.70" y="887.50" font-size="44" textLength="98.14" lengthAdjust="spacingAndGlyphs">−2.0</text>
<text x="2479.10" y="816.00" font-size="44" textLength="607" lengthAdjust="spacingAndGlyphs" transform="rotate(-90 2479.1 816.0)">Electric Field Ey (|e|<tspan font-style="italic">E</tspan><tspan font-style="italic" font-size="30" dy="7">y</tspan><tspan dy="-7">/</tspan><tspan font-style="italic">m</tspan><tspan font-size="30" dy="7">e</tspan><tspan font-style="italic" dy="-7">cω</tspan>)</text>
<text x="962.70" y="60.2" font-size="52.6" textLength="183.78" lengthAdjust="spacingAndGlyphs">Electric</text>
<text x="1164.58" y="60.2" font-size="52.6" textLength="106.57" lengthAdjust="spacingAndGlyphs">field</text>
<text x="1286.37" y="60.2" font-size="52.6" textLength="51.59" lengthAdjust="spacingAndGlyphs">at</text>
<text x="1353.56" y="60.2" font-size="52.6" textLength="18.61" lengthAdjust="spacingAndGlyphs" font-style="italic">t</text>
<text x="1384.64" y="60.2" font-size="52.6" textLength="38.95" lengthAdjust="spacingAndGlyphs">=</text>
<text x="1435.07" y="60.2" font-size="52.6" textLength="94.83" lengthAdjust="spacingAndGlyphs">156</text>
<text x="1545.58" y="60.2" font-size="52.6" textLength="45.01" lengthAdjust="spacingAndGlyphs">fs</text>
</svg>
<script>
(function(){
var S=[[103,0,31],[178,24,43],[214,96,77],[244,165,130],[253,219,199],[247,247,247],[209,229,240],[146,197,222],[67,147,195],[33,102,172],[5,48,97]];
var LUT=[];
for(var i=0;i<256;i++){var t=i/255*10,j=Math.min(9,Math.floor(t)),f=t-j;LUT.push([0,1,2].map(function(c){return Math.round(S[j][c]+(S[j+1][c]-S[j][c])*f);}));}
function col(v,vmax){var t=(v+vmax)/(2*vmax);var i=Math.floor(t*256);if(i<0)i=0;if(i>255)i=255;return LUT[i];}
var k=2*Math.PI/0.8;
var XMIN=28.772,XMAX=46.785;
var R=50, xs=36.10;
function sideAmp(ay){
  var p=5.7;
  if(ay<p){var d=(ay-p)/1.9;return 0.15+1.0*Math.exp(-d*d);}
  var d2=(ay-p)/5.5;return 0.15+1.0*Math.exp(-d2*d2);
}
function Ey(x,y){
  var ay=Math.abs(y);
  // central beam (flat-top in y)
  var gy=Math.exp(-Math.pow(ay/2.45,2.4));
  var gx=Math.exp(-Math.pow(Math.abs(x-36.4)/2.5,3));
  var Eyc=-2.35*gy*gx*Math.cos(k*(x-36.22));
  // side wave
  var xe=35.95-y*y/(2*R), Ls=2.6;
  var ex=(x-xe)/Ls, gxs=Math.exp(-ex*ex);
  var Eys=sideAmp(ay)*gxs*Math.cos(k*(x+y*y/(2*R)-xs));
  return Eyc+Eys;
}
function Ex(x,y){
  var ay=Math.abs(y), sg=y<0?-1:1;
  // central beam contribution (gaussian profile)
  var wc=2.7, Lc=2.7, xc=36.3;
  var gy=Math.exp(-(y*y)/(wc*wc)), dd=(x-xc)/Lc, gx=Math.exp(-dd*dd);
  var Ac=2.8*gy*gx, pc=k*(x-36.22);
  var dAc=Ac*(-2*y/(wc*wc));
  var Exc=(1/k)*(dAc*Math.sin(pc));
  // side wave
  var xe=35.9-y*y/(2*R), Ls=2.45;
  var ex=(x-xe)/Ls, gxs=Math.exp(-ex*ex);
  var as=sideAmp(ay), h=1e-3, das=(sideAmp(ay+h)-sideAmp(ay-h))/(2*h)*sg;
  var As=as*gxs, dAs=das*gxs + As*(-2*ex/Ls)*(y/R);
  var ps=k*(x+y*y/(2*R)-xs);
  var Exs=-1.25*(1/k)*(dAs*Math.sin(ps)+As*(k*y/R)*Math.cos(ps));
  var dc=0.018/(1+Math.exp((x-(33.0-y*y/(2*R)))/0.5));
  return Exc+Exs+dc;
}
function draw(id, f, vmax){
  var c=document.getElementById(id); if(!c||!c.getContext) return;
  var W=c.width,H=c.height,ctx=c.getContext('2d'),img=ctx.createImageData(W,H),d=img.data;
  for(var j=0;j<H;j++){
    var x=XMAX-(j+0.5)/H*(XMAX-XMIN);
    for(var i=0;i<W;i++){
      var y=-10+(i+0.5)/W*20;
      var cc=col(f(x,y),vmax),p=(j*W+i)*4;
      d[p]=cc[0];d[p+1]=cc[1];d[p+2]=cc[2];d[p+3]=255;
    }
  }
  ctx.putImageData(img,0,0);
}
draw('h0',Ex,0.25);
draw('h1',Ey,2.0);
})();

</script>
</body></html>
